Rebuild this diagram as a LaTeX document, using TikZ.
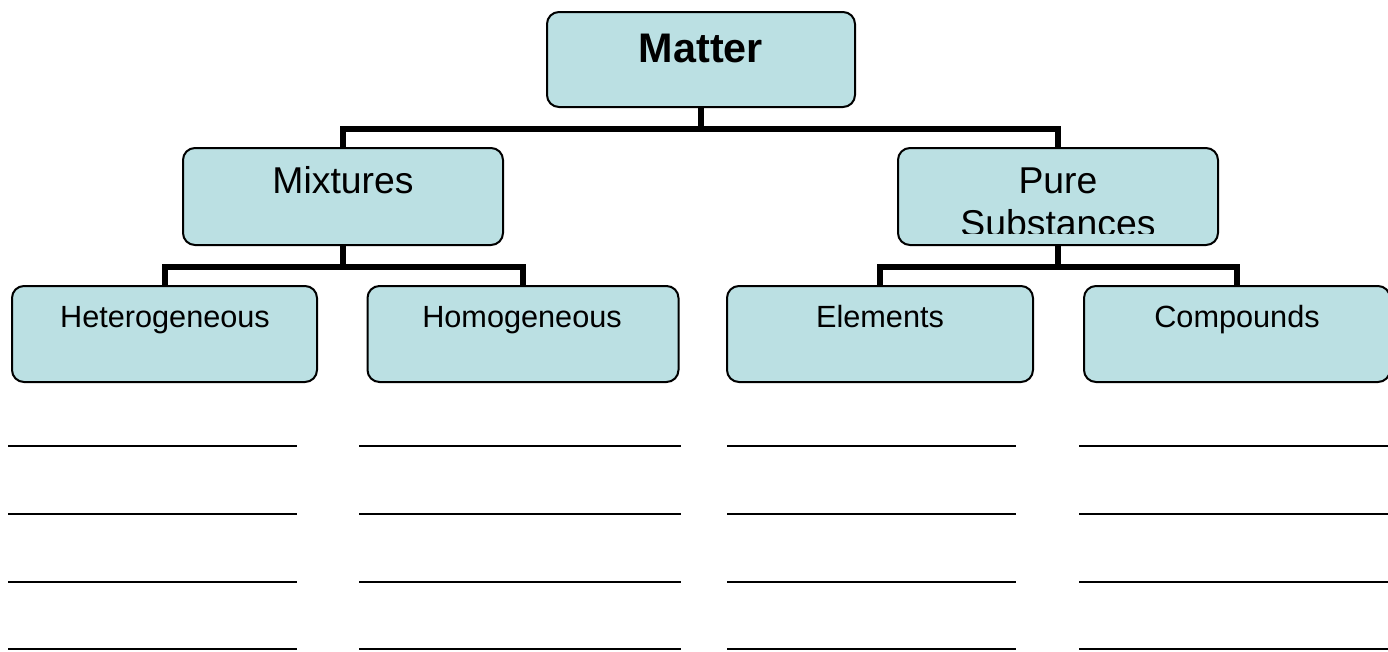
\documentclass[tikz,border=0pt]{standalone}
\usepackage{fontspec}
\setmainfont{Liberation Sans}
\usepackage{tikz}
\definecolor{boxfill}{RGB}{187,224,227}

\begin{document}
\begin{tikzpicture}[x=0.75pt,y=-0.75pt,
	box/.style={draw=black,line width=1.5pt,fill=boxfill,rounded corners=9pt,inner sep=0pt},
	conn/.style={line width=4.5pt},
	blank/.style={line width=1.3pt},
	lbl/.style={anchor=base,inner sep=0pt}]
	\clip (0,0) rectangle (1388,651);
	% boxes
	\node[box,minimum width=231pt,minimum height=71.25pt] (matter) at (701,59.5) {};
	\node[box,minimum width=240pt,minimum height=72.75pt] (mixtures) at (343,196.5) {};
	\node[box,minimum width=240pt,minimum height=72.75pt] (pure) at (1058,196.5) {};
	\node[box,minimum width=228.75pt,minimum height=72pt] (het) at (164.5,334) {};
	\node[box,minimum width=233.25pt,minimum height=72pt] (hom) at (523,334) {};
	\node[box,minimum width=229.5pt,minimum height=72pt] (elem) at (880,334) {};
	\node[box,minimum width=229.5pt,minimum height=72pt] (comp) at (1237,334) {};
	% texts
	\node[lbl,font=\fontsize{31}{37}\selectfont\bfseries] (mattertxt) at (701,62) {Matter};
	\node[lbl,font=\fontsize{28}{34}\selectfont] (mixturestxt) at (343,193) {Mixtures};
	\node[lbl,font=\fontsize{28}{34}\selectfont] (puretxt) at (1058,193) {Pure};
	\begin{scope}
		\clip (898,148) rectangle (1218,233);
		\node[lbl,font=\fontsize{28}{34}\selectfont] (substtxt) at (1058,236) {Substances};
	\end{scope}
	\node[lbl,font=\fontsize{23}{28}\selectfont] (hettxt) at (165,327) {Heterogeneous};
	\node[lbl,font=\fontsize{23}{28}\selectfont] (homtxt) at (522,327) {Homogeneous};
	\node[lbl,font=\fontsize{23}{28}\selectfont] (elemtxt) at (880,327) {Elements};
	\node[lbl,font=\fontsize{23}{28}\selectfont] (comptxt) at (1237,327) {Compounds};
	% connectors
	\draw[conn] (matter.south) -- ++(0,21) -| (mixtures.north);
	\draw[conn] (matter.south) -- ++(0,21) -| (pure.north);
	\draw[conn] (mixtures.south) -- ++(0,20.5) -| (het.north);
	\draw[conn] (mixtures.south) -- ++(0,20.5) -| (hom.north);
	\draw[conn] (pure.south) -- ++(0,20.5) -| (elem.north);
	\draw[conn] (pure.south) -- ++(0,20.5) -| (comp.north);
	% blank lines to fill in
	\draw[blank] (8,446) -- (297,446) (8,514) -- (297,514) (8,582) -- (297,582) (8,649) -- (297,649);
	\draw[blank] (359,446) -- (681,446) (359,514) -- (681,514) (359,582) -- (681,582) (359,649) -- (681,649);
	\draw[blank] (727,446) -- (1016,446) (727,514) -- (1016,514) (727,582) -- (1016,582) (727,649) -- (1016,649);
	\draw[blank] (1079,446) -- (1390,446) (1079,514) -- (1390,514) (1079,582) -- (1390,582) (1079,649) -- (1390,649);
\end{tikzpicture}
\end{document}
